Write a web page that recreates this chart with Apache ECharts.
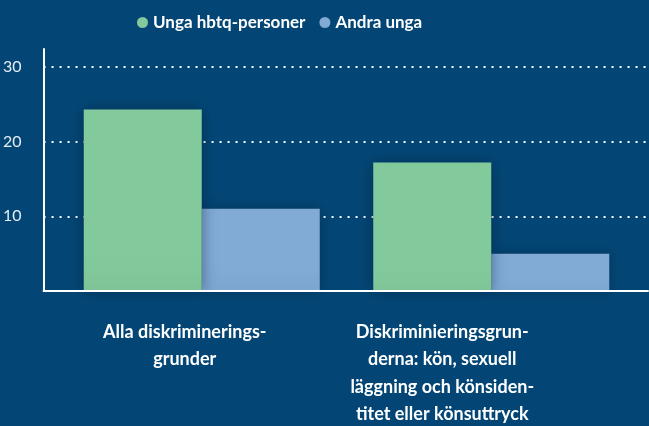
<!DOCTYPE html>
<html><head><meta charset="utf-8">
<script src="https://cdn.jsdelivr.net/npm/echarts@6/dist/echarts.min.js"></script>
<style>html,body{margin:0;padding:0;background:#034675;}#c{width:649px;height:426px;}</style>
</head><body><div id="c"></div>
<script>
const categories = ['Alla diskriminerings-\ngrunder', 'Diskriminieringsgrun-\nderna: kön, sexuell\nläggning och könsiden-\ntitet eller könsuttryck'];
const seriesNames = ['Unga hbtq-personer', 'Andra unga'];
const hbtqValues = [24.3, 17.2];
const andraValues = [11.0, 5.0];
const yTicks = [10, 20, 30];

const font = 'Lato';
const chart = echarts.init(document.getElementById('c'));
chart.setOption({
  backgroundColor: '#034675',
  animation: false,
  legend: {
    top: 9, left: 132, icon: 'circle', itemWidth: 11, itemHeight: 11, itemGap: 14,
    data: seriesNames,
    textStyle: { color: '#ffffff', fontSize: 17, fontWeight: 'bold', fontFamily: font }
  },
  grid: [
    { left: 43, right: 1, top: 49, bottom: 135 },
    { left: 57, right: 13, top: 49, bottom: 135 }
  ],
  xAxis: [
    { type: 'category', gridIndex: 0, data: categories, z: 10,
      axisLine: { lineStyle: { color: '#ffffff', width: 2 } },
      axisTick: { show: false }, axisLabel: { show: false } },
    { type: 'category', gridIndex: 1, data: categories,
      axisLine: { show: false }, axisTick: { show: false },
      axisLabel: {
        margin: 27, interval: 0,
        formatter: function (v, i) {
          const k = i === 0 ? 'a' : 'b';
          return v.split('\n').map(s => '{' + k + '|' + s + '}').join('\n');
        },
        rich: {
          a: { color: '#fff', fontSize: 18, fontWeight: 'bold', fontFamily: font, lineHeight: 27.5, padding: [0, 34, 0, 0] },
          b: { color: '#fff', fontSize: 18, fontWeight: 'bold', fontFamily: font, lineHeight: 27.5, padding: [0, 98, 0, 0] }
        }
      } }
  ],
  yAxis: [
    { type: 'value', gridIndex: 0, min: 0, max: 32.4, interval: 10,
      axisLine: { show: true, lineStyle: { color: '#ffffff', width: 2 } },
      axisTick: { show: false },
      axisLabel: { margin: 22, color: '#e6edf3', fontSize: 16, fontFamily: font, showMinLabel: false, showMaxLabel: false,
        formatter: v => yTicks.includes(v) ? String(v) : '' },
      splitLine: { show: true, showMinLine: false, showMaxLine: false, lineStyle: { color: '#ffffff', width: 2, type: [2, 6] } } },
    { type: 'value', gridIndex: 1, min: 0, max: 32.4, show: false, splitLine: { show: false } }
  ],
  series: [
    { name: seriesNames[0], type: 'bar', xAxisIndex: 1, yAxisIndex: 1, data: hbtqValues, barWidth: 118, barGap: '0%', z: 4,
      itemStyle: { color: new echarts.graphic.LinearGradient(0, 0, 0, 1, [{ offset: 0, color: '#82ca9c' }, { offset: 0.8, color: '#82ca9c' }, { offset: 1, color: '#7ec497' }]),
        shadowBlur: 14, shadowColor: 'rgba(0,20,40,0.45)' } },
    { name: seriesNames[1], type: 'bar', xAxisIndex: 1, yAxisIndex: 1, data: andraValues, barWidth: 118, barGap: '0%', z: 3,
      itemStyle: { color: new echarts.graphic.LinearGradient(0, 0, 0, 1, [{ offset: 0, color: '#81aad5' }, { offset: 0.7, color: '#81aad5' }, { offset: 1, color: '#7ca6cf' }]),
        shadowBlur: 14, shadowColor: 'rgba(0,20,40,0.35)' } }
  ],
  color: ['#82ca9c', '#81aad5']
});
</script></body></html>
